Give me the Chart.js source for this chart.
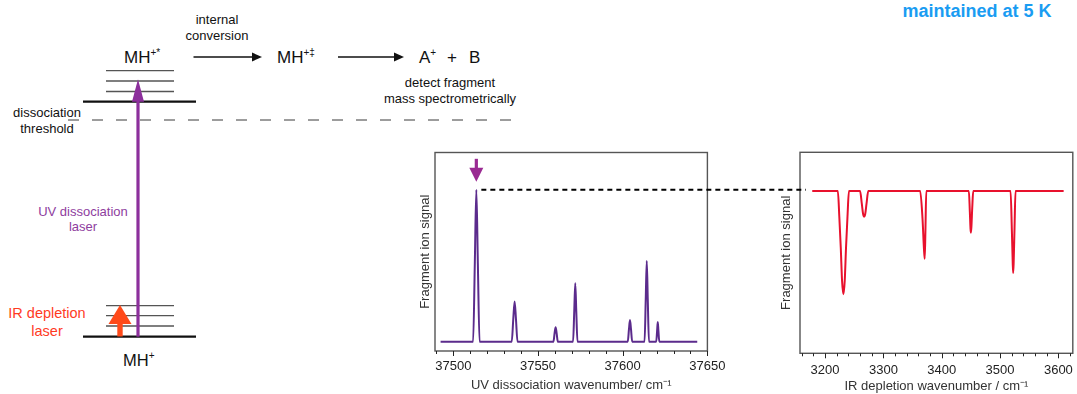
<!DOCTYPE html>
<html>
<head>
<meta charset="utf-8">
<script src="https://cdn.jsdelivr.net/npm/chart.js@4.4.1/dist/chart.umd.min.js"></script>
<style>
    body { margin: 0; background: #fff; }
    #page { position: relative; width: 1077px; height: 394px; overflow: hidden; background: #fff; font-family: "Liberation Sans", Arial, sans-serif; }
    #diagram { position: absolute; left: 0; top: 0; }
    canvas { position: absolute; }
    #uvChart { left: 400px; top: 140px; z-index: 2; }
    #irChart { left: 762px; top: 140px; z-index: 1; }
</style>
</head>
<body>
<div id="page">
    <!-- Energy level scheme -->
    <svg id="diagram" width="1077" height="394" font-family="Liberation Sans, Arial, sans-serif">
        <text x="217" y="19" font-size="13" text-anchor="middle" dominant-baseline="central" fill="#111">internal</text>
        <text x="217" y="35" font-size="13" text-anchor="middle" dominant-baseline="central" fill="#111">conversion</text>

        <text x="124" y="57" font-size="17" dominant-baseline="central" fill="#111">MH<tspan font-size="10" dy="-5">+*</tspan></text>
        <line x1="193.5" y1="57" x2="254" y2="57" stroke="#111" stroke-width="1.3"/>
        <polygon points="262,57 252,52.5 252,61.5" fill="#111"/>
        <text x="277" y="57" font-size="17" dominant-baseline="central" fill="#111">MH<tspan font-size="10" dy="-5">+‡</tspan></text>
        <line x1="338" y1="57" x2="396" y2="57" stroke="#111" stroke-width="1.3"/>
        <polygon points="404,57 394,52.5 394,61.5" fill="#111"/>
        <text x="419" y="57" font-size="17" dominant-baseline="central" fill="#111">A<tspan font-size="10" dy="-5">+</tspan></text>
        <text x="452" y="57" font-size="17" text-anchor="middle" dominant-baseline="central" fill="#111">+</text>
        <text x="469" y="57" font-size="17" dominant-baseline="central" fill="#111">B</text>

        <text x="450" y="82" font-size="13" text-anchor="middle" dominant-baseline="central" fill="#111">detect fragment</text>
        <text x="450" y="98" font-size="13" text-anchor="middle" dominant-baseline="central" fill="#111">mass spectrometrically</text>

        <!-- upper state levels -->
        <line x1="106" y1="70.7" x2="174" y2="70.7" stroke="#555" stroke-width="1.3"/>
        <line x1="106" y1="81" x2="174" y2="81" stroke="#555" stroke-width="1.3"/>
        <line x1="106" y1="91.5" x2="174" y2="91.5" stroke="#555" stroke-width="1.3"/>
        <line x1="83" y1="101.7" x2="196" y2="101.7" stroke="#111" stroke-width="2.2"/>

        <!-- dissociation threshold -->
        <text x="47" y="112" font-size="13" text-anchor="middle" dominant-baseline="central" fill="#111">dissociation</text>
        <text x="47" y="128" font-size="13" text-anchor="middle" dominant-baseline="central" fill="#111">threshold</text>
        <line x1="68" y1="120" x2="514" y2="120" stroke="#3a3a3a" stroke-width="1" stroke-dasharray="11 13"/>

        <!-- ground state levels -->
        <line x1="106" y1="305.7" x2="174" y2="305.7" stroke="#555" stroke-width="1.3"/>
        <line x1="106" y1="315.7" x2="174" y2="315.7" stroke="#555" stroke-width="1.3"/>
        <line x1="106" y1="326" x2="174" y2="326" stroke="#555" stroke-width="1.3"/>
        <line x1="83" y1="336.7" x2="196" y2="336.7" stroke="#111" stroke-width="2.2"/>

        <!-- UV laser arrow -->
        <line x1="138" y1="336.7" x2="138" y2="96" stroke="#8c2f9c" stroke-width="3.2"/>
        <polygon points="138,79.3 132,101.7 144,101.7" fill="#8c2f9c"/>
        <text x="83" y="211" font-size="13" text-anchor="middle" dominant-baseline="central" fill="#8e3d9e">UV dissociation</text>
        <text x="83" y="226" font-size="13" text-anchor="middle" dominant-baseline="central" fill="#8e3d9e">laser</text>

        <!-- IR laser arrow -->
        <rect x="117.3" y="322" width="5.4" height="14.5" fill="#ff4a1a"/>
        <polygon points="120,305 108.5,324 131.5,324" fill="#ff4a1a"/>
        <text x="47" y="313" font-size="14.5" text-anchor="middle" dominant-baseline="central" fill="#ff3b1f">IR depletion</text>
        <text x="47" y="331" font-size="14.5" text-anchor="middle" dominant-baseline="central" fill="#ff3b1f">laser</text>

        <text x="123" y="360" font-size="16.5" dominant-baseline="central" fill="#111">MH<tspan font-size="10" dy="-5">+</tspan></text>

        <text x="977" y="11" font-size="18" font-weight="bold" text-anchor="middle" dominant-baseline="central" fill="#1a9cf2">maintained at 5 K</text>
    </svg>

    <!-- UV canvas reaches over the IR frame so the dashed link is drawn in one go -->
    <canvas id="uvChart" width="406" height="254"></canvas>
    <canvas id="irChart" width="315" height="254"></canvas>
</div>

<script>
// UV dissociation spectrum
const uvWavenumber = [37492.5,
    37511.7, 37512.7, 37513.6, 37514.5, 37515.5,
    37534.5, 37535.4, 37536.2, 37537.0, 37537.9,
    37559.1, 37559.8, 37560.4, 37561.0, 37561.7,
    37570.7, 37571.4, 37572.0, 37572.6, 37573.3,
    37603.0, 37603.7, 37604.3, 37604.9, 37605.6,
    37612.9, 37613.6, 37614.2, 37614.8, 37615.5,
    37619.8, 37620.3, 37620.7, 37621.1, 37621.6,
    37644];
const uvSignal = [0.047,
    0.047, 0.44, 0.812, 0.44, 0.047,
    0.047, 0.16, 0.249, 0.16, 0.047,
    0.047, 0.09, 0.12, 0.09, 0.047,
    0.047, 0.20, 0.341, 0.20, 0.047,
    0.047, 0.11, 0.156, 0.11, 0.047,
    0.047, 0.26, 0.454, 0.26, 0.047,
    0.047, 0.10, 0.146, 0.10, 0.047,
    0.047];
const uvPumpedPeak = 37513.6;

// IR depletion spectrum (UV fixed on the pumped peak)
const irWavenumber = [3178,
    3221.9, 3224.4, 3226.9, 3229.1, 3231.4, 3233.7, 3235.9, 3238.4, 3240.9,
    3260, 3263, 3265.2, 3267, 3268.8, 3271, 3274,
    3363, 3367, 3369.5, 3370.8, 3372, 3373.5,
    3446.5, 3448.2, 3449.3, 3450, 3450.9, 3452.3, 3454,
    3518, 3520.3, 3521.8, 3522.5, 3523.3, 3524.8, 3526.5,
    3609];
const irSignal = [0.807,
    0.807, 0.679, 0.525, 0.361, 0.294, 0.361, 0.525, 0.679, 0.807,
    0.807, 0.743, 0.693, 0.68, 0.693, 0.743, 0.807,
    0.807, 0.672, 0.521, 0.47, 0.605, 0.807,
    0.807, 0.703, 0.621, 0.60, 0.631, 0.724, 0.807,
    0.807, 0.604, 0.441, 0.40, 0.449, 0.624, 0.807,
    0.807];

const FONT = 'Liberation Sans, Arial, sans-serif';

// box around the plot + major/minor ticks under it
const framePlugin = {
    id: 'frame',
    afterDraw(chart, args, opts) {
        const ctx = chart.ctx, a = chart.chartArea, x = chart.scales.x;
        ctx.save();
        ctx.strokeStyle = '#555';
        ctx.lineWidth = 1.4;
        ctx.strokeRect(a.left, a.top, a.right - a.left, a.bottom - a.top);
        ctx.strokeStyle = '#222';
        ctx.lineWidth = 1;
        ctx.beginPath();
        for (let v = opts.minorStart; v <= x.max + 1e-6; v += opts.minorStep) {
            const px = Math.round(x.getPixelForValue(v)) + 0.5;
            const len = (Math.abs(v % opts.majorStep) < 1e-6) ? 5 : 3;
            ctx.moveTo(px, a.bottom);
            ctx.lineTo(px, a.bottom + len);
        }
        ctx.stroke();

        // dashed guide from the pumped UV peak across to the IR plot, plus the marker arrow
        if (opts.link) {
            const y = chart.scales.y.getPixelForValue(opts.link.y);
            const px = x.getPixelForValue(opts.link.x);
            ctx.strokeStyle = '#000';
            ctx.lineWidth = 2;
            ctx.setLineDash([5, 4]);
            ctx.beginPath();
            ctx.moveTo(px + 5, y);
            ctx.lineTo(chart.width, y);
            ctx.stroke();
            ctx.setLineDash([]);

            ctx.fillStyle = '#9a2a92';
            ctx.fillRect(px - 1.6, y - 31, 3.2, 14);
            ctx.beginPath();
            ctx.moveTo(px, y - 8);
            ctx.lineTo(px - 7, y - 22);
            ctx.lineTo(px + 7, y - 22);
            ctx.closePath();
            ctx.fill();
        }
        ctx.restore();
    }
};

function makeSpectrum(canvasId, xs, ys, cfg) {
    return new Chart(document.getElementById(canvasId), {
        type: 'line',
        data: {
            datasets: [{
                data: xs.map((v, i) => ({ x: v, y: ys[i] })),
                borderColor: cfg.color,
                borderWidth: 2,
                pointRadius: 0,
                cubicInterpolationMode: 'monotone',
                fill: false
            }]
        },
        options: {
            responsive: false,
            animation: false,
            layout: { padding: cfg.padding },
            plugins: {
                legend: { display: false },
                tooltip: { enabled: false },
                frame: cfg.frame
            },
            scales: {
                x: {
                    type: 'linear',
                    min: cfg.xMin,
                    max: cfg.xMax,
                    grid: { display: false, drawTicks: false },
                    border: { display: false },
                    ticks: {
                        stepSize: cfg.step,
                        includeBounds: false,
                        maxRotation: 0,
                        padding: cfg.tickPad,
                        color: '#222',
                        font: { family: FONT, size: 13 },
                        callback: v => String(v)
                    },
                    title: {
                        display: true,
                        text: cfg.xTitle,
                        color: '#333',
                        font: { family: FONT, size: 13 },
                        padding: { top: 0, bottom: cfg.xTitlePad }
                    },
                    afterFit: s => { s.height = cfg.xHeight; s.paddingLeft = 0; s.paddingRight = 0; }
                },
                y: {
                    min: 0,
                    max: 1,
                    grid: { display: false, drawTicks: false },
                    border: { display: false },
                    ticks: { display: false },
                    title: {
                        display: true,
                        text: 'Fragment ion signal',
                        color: '#333',
                        font: { family: FONT, size: 13 },
                        padding: { top: cfg.yTitlePad, bottom: 0 }
                    },
                    afterFit: s => { s.width = cfg.yWidth; }
                }
            }
        },
        plugins: [framePlugin]
    });
}

makeSpectrum('uvChart', uvWavenumber, uvSignal, {
    color: '#5b2b8c',
    xMin: 37489.2, xMax: 37650, step: 50,
    padding: { top: 12.5, right: 98.6, bottom: 0, left: 0 },
    xHeight: 43, yWidth: 35, tickPad: 7.2, xTitlePad: 1.2, yTitlePad: 17.2,
    xTitle: 'UV dissociation wavenumber/ cm⁻¹',
    frame: { minorStart: 37490, minorStep: 10, majorStep: 50,
             link: { x: uvPumpedPeak, y: Math.max(...uvSignal) } }
});

makeSpectrum('irChart', irWavenumber, irSignal, {
    color: '#e8112d',
    xMin: 3157, xMax: 3624.7, step: 100,
    padding: { top: 12.3, right: 4.2, bottom: 0, left: 0 },
    xHeight: 40.7, yWidth: 38, tickPad: 8.9, xTitlePad: 0.2, yTitlePad: 16.2,
    xTitle: 'IR depletion wavenumber / cm⁻¹',
    frame: { minorStart: 3160, minorStep: 20, majorStep: 100, link: null }
});
</script>
</body>
</html>
